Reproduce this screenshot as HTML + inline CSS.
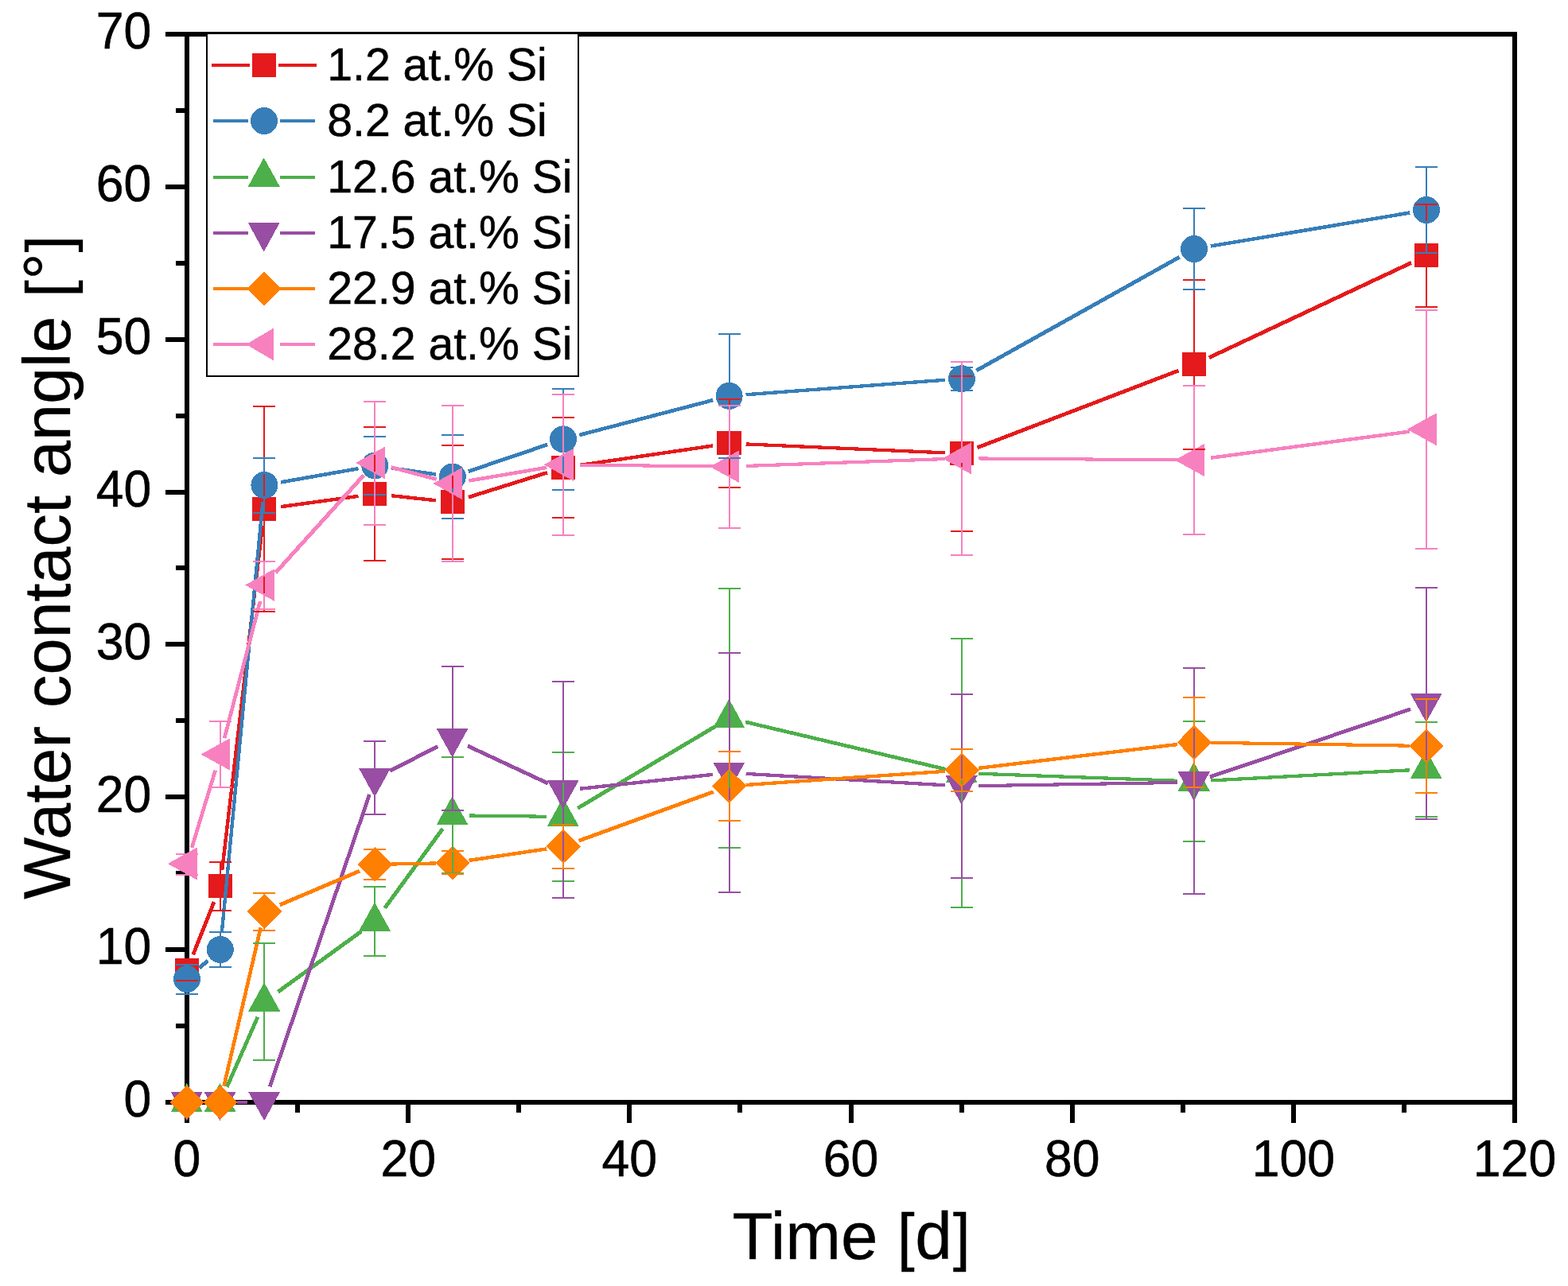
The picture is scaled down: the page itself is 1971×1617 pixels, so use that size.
<!DOCTYPE html>
<html lang="en"><head><meta charset="utf-8"><title>Water contact angle vs. time</title>
<style>html,body{margin:0;padding:0;background:#fff}body{width:1971px;height:1617px;overflow:hidden}svg{display:block}text{font-family:"Liberation Sans",Arial,Helvetica,sans-serif;fill:#000}</style>
</head><body>
<svg width="1971" height="1617" viewBox="0 0 1971 1617">
<rect width="1971" height="1617" fill="#fff"/>
<g id="axes" stroke="#000" stroke-width="6" fill="none" shape-rendering="crispEdges">
<rect x="235" y="43" width="1669" height="1343"/>
<path d="M235 1386v26M374 1386v13M513 1386v26M652 1386v13M791 1386v26M930 1386v13M1070 1386v26M1209 1386v13M1348 1386v26M1487 1386v13M1626 1386v26M1765 1386v13M1904 1386v26M235 1386h-27M235 1290h-14M235 1194h-27M235 1098h-14M235 1002h-27M235 906h-14M235 810h-27M235 714h-14M235 619h-27M235 523h-14M235 427h-27M235 331h-14M235 235h-27M235 139h-14M235 43h-27"/>
</g>
<g id="ticklabels" font-size="62.5" stroke="#000" stroke-width="0.6">
<text transform="translate(235,1479) scale(1,1.03)" text-anchor="middle">0</text>
<text transform="translate(513.17,1479) scale(1,1.03)" text-anchor="middle">20</text>
<text transform="translate(791.33,1479) scale(1,1.03)" text-anchor="middle">40</text>
<text transform="translate(1069.5,1479) scale(1,1.03)" text-anchor="middle">60</text>
<text transform="translate(1347.67,1479) scale(1,1.03)" text-anchor="middle">80</text>
<text transform="translate(1625.83,1479) scale(1,1.03)" text-anchor="middle">100</text>
<text transform="translate(1904,1479) scale(1,1.03)" text-anchor="middle">120</text>
<text transform="translate(190.3,1404.3) scale(1,1.03)" text-anchor="end">0</text>
<text transform="translate(190.3,1212.44) scale(1,1.03)" text-anchor="end">10</text>
<text transform="translate(190.3,1020.59) scale(1,1.03)" text-anchor="end">20</text>
<text transform="translate(190.3,828.73) scale(1,1.03)" text-anchor="end">30</text>
<text transform="translate(190.3,636.87) scale(1,1.03)" text-anchor="end">40</text>
<text transform="translate(190.3,445.01) scale(1,1.03)" text-anchor="end">50</text>
<text transform="translate(190.3,253.16) scale(1,1.03)" text-anchor="end">60</text>
<text transform="translate(190.3,61.3) scale(1,1.03)" text-anchor="end">70</text>
</g>
<text id="xtitle" transform="translate(1070.1,1582.7)" font-size="83.8" stroke="#000" stroke-width="0.3" text-anchor="middle">Time <tspan font-size="79" dx="0.7" dy="-0.8">[</tspan><tspan dx="0.7" dy="0.8">d</tspan><tspan font-size="79" dx="0.7" dy="-0.8">]</tspan></text>
<text id="ytitle" transform="translate(88.3,713.3) rotate(-90)" font-size="82.8" stroke="#000" stroke-width="0.3" text-anchor="middle">Water contact angle <tspan font-size="78" dx="0.7" dy="-0.8">[</tspan><tspan dx="0.7" dy="0.8">°</tspan><tspan font-size="78" dx="0.7" dy="-0.8">]</tspan></text>
<g id="legend" shape-rendering="crispEdges">
<rect x="260" y="41.5" width="467" height="431" fill="#fff" stroke="#000" stroke-width="2"/>
<g stroke="#E41A1C"><line x1="266" y1="82" x2="314" y2="82" stroke-width="4"/><line x1="350" y1="82" x2="398" y2="82" stroke-width="4"/></g>
<rect x="317" y="67" width="30" height="30" fill="#E41A1C"/>
<text transform="translate(411.2,101.2) scale(1,1.01)" font-size="57.2" stroke="#000" stroke-width="0.5">1.2 at.% Si</text>
<g stroke="#377EB8"><line x1="268" y1="152" x2="312" y2="152" stroke-width="4"/><line x1="352" y1="152" x2="396" y2="152" stroke-width="4"/></g>
<circle cx="332" cy="152" r="17" fill="#377EB8"/>
<text transform="translate(411.2,171.2) scale(1,1.01)" font-size="57.2" stroke="#000" stroke-width="0.5">8.2 at.% Si</text>
<g stroke="#4DAF4A"><line x1="268" y1="222.5" x2="312" y2="222.5" stroke-width="4"/><line x1="352" y1="222.5" x2="396" y2="222.5" stroke-width="4"/></g>
<polygon points="331.7,198.3 351.8,234.7 311.7,234.7" fill="#4DAF4A"/>
<text transform="translate(411.2,241.7) scale(1,1.01)" font-size="57.2" stroke="#000" stroke-width="0.5">12.6 at.% Si</text>
<g stroke="#984EA3"><line x1="268" y1="293" x2="312" y2="293" stroke-width="4"/><line x1="352" y1="293" x2="396" y2="293" stroke-width="4"/></g>
<polygon points="311.7,279.8 351.8,279.8 331.7,316.6" fill="#984EA3"/>
<text transform="translate(411.2,312.2) scale(1,1.01)" font-size="57.2" stroke="#000" stroke-width="0.5">17.5 at.% Si</text>
<g stroke="#FF7F00"><line x1="268" y1="363" x2="312" y2="363" stroke-width="4"/><line x1="352" y1="363" x2="396" y2="363" stroke-width="4"/></g>
<polygon points="332,341.3 353.9,363 332,384.7 310.6,363" fill="#FF7F00"/>
<text transform="translate(411.2,382.2) scale(1,1.01)" font-size="57.2" stroke="#000" stroke-width="0.5">22.9 at.% Si</text>
<g stroke="#F781BF"><line x1="268" y1="433" x2="312" y2="433" stroke-width="4"/><line x1="352" y1="433" x2="396" y2="433" stroke-width="4"/></g>
<polygon points="309.4,433 343.8,412.7 343.8,453.3" fill="#F781BF"/>
<text transform="translate(411.2,452.2) scale(1,1.01)" font-size="57.2" stroke="#000" stroke-width="0.5">28.2 at.% Si</text>
</g>
<g id="series" shape-rendering="crispEdges">
<g stroke="#E41A1C"><line x1="242.74" y1="1200.48" x2="269.06" y2="1134.02" stroke-width="4.8"/><line x1="279.24" y1="1093.64" x2="329.96" y2="660.86" stroke-width="4.42"/><line x1="353.21" y1="637.15" x2="450.49" y2="623.85" stroke-width="4.45"/><line x1="492.18" y1="623.25" x2="547.92" y2="629.25" stroke-width="4.4"/><line x1="588.84" y1="625.24" x2="687.96" y2="594.26" stroke-width="4.71"/><line x1="728.78" y1="584.96" x2="895.82" y2="560.54" stroke-width="4.47"/><line x1="937.58" y1="558.42" x2="1187.92" y2="569.38" stroke-width="4.23"/><line x1="1228.51" y1="562.79" x2="1481.39" y2="466.01" stroke-width="4.78"/><line x1="1520.01" y1="449.58" x2="1773.99" y2="330.42" stroke-width="4.85"/></g>
<rect x="219.7" y="1204.7" width="30.2" height="30.2" fill="#E41A1C"/>
<rect x="261.5" y="1099.2" width="30.2" height="30.2" fill="#E41A1C"/>
<rect x="317.1" y="624.7" width="30.2" height="30.2" fill="#E41A1C"/>
<rect x="456" y="605.7" width="30.2" height="30.2" fill="#E41A1C"/>
<rect x="553.5" y="616.2" width="30.2" height="30.2" fill="#E41A1C"/>
<rect x="692.7" y="572.7" width="30.2" height="30.2" fill="#E41A1C"/>
<rect x="901.3" y="542.2" width="30.2" height="30.2" fill="#E41A1C"/>
<rect x="1193.6" y="555" width="30.2" height="30.2" fill="#E41A1C"/>
<rect x="1485.7" y="443.2" width="30.2" height="30.2" fill="#E41A1C"/>
<rect x="1777.7" y="306.2" width="30.2" height="30.2" fill="#E41A1C"/>
<g stroke="#377EB8"><line x1="250.72" y1="1217.08" x2="261.08" y2="1207.92" stroke-width="5"/><line x1="278.79" y1="1173.09" x2="330.41" y2="630.91" stroke-width="4.37"/><line x1="353.08" y1="606.35" x2="450.62" y2="589.15" stroke-width="4.53"/><line x1="492.09" y1="588.48" x2="548.01" y2="596.52" stroke-width="4.47"/><line x1="588.69" y1="592.76" x2="688.11" y2="559.04" stroke-width="4.74"/><line x1="728.32" y1="546.99" x2="896.28" y2="503.11" stroke-width="4.65"/><line x1="937.54" y1="496.25" x2="1187.96" y2="477.75" stroke-width="4.32"/><line x1="1227.23" y1="465.96" x2="1482.67" y2="323.24" stroke-width="4.91"/><line x1="1521.71" y1="309.52" x2="1772.29" y2="267.48" stroke-width="4.51"/></g>
<circle cx="235" cy="1231" r="17" fill="#377EB8"/>
<circle cx="276.8" cy="1194" r="17" fill="#377EB8"/>
<circle cx="332.4" cy="610" r="17" fill="#377EB8"/>
<circle cx="471.3" cy="585.5" r="17" fill="#377EB8"/>
<circle cx="568.8" cy="599.5" r="17" fill="#377EB8"/>
<circle cx="708" cy="552.3" r="17" fill="#377EB8"/>
<circle cx="916.6" cy="497.8" r="17" fill="#377EB8"/>
<circle cx="1208.9" cy="476.2" r="17" fill="#377EB8"/>
<circle cx="1501" cy="313" r="17" fill="#377EB8"/>
<circle cx="1793" cy="264" r="17" fill="#377EB8"/>
<g stroke="#4DAF4A"><line x1="285.25" y1="1366.78" x2="323.95" y2="1278.72" stroke-width="4.83"/><line x1="349.4" y1="1247.17" x2="454.3" y2="1171.03" stroke-width="4.97"/><line x1="483.69" y1="1141.74" x2="556.41" y2="1042.16" stroke-width="4.97"/><line x1="589.8" y1="1025.47" x2="687" y2="1026.73" stroke-width="4.11"/><line x1="726.05" y1="1016.27" x2="898.55" y2="913.73" stroke-width="4.93"/><line x1="937.04" y1="907.82" x2="1188.46" y2="967.18" stroke-width="4.62"/><line x1="1229.89" y1="972.75" x2="1480.01" y2="981.75" stroke-width="4.21"/><line x1="1521.97" y1="981.4" x2="1772.03" y2="968.3" stroke-width="4.26"/></g>
<polygon points="234.7,1361.8 254.8,1398.2 214.7,1398.2" fill="#4DAF4A"/>
<polygon points="276.5,1361.8 296.6,1398.2 256.5,1398.2" fill="#4DAF4A"/>
<polygon points="332.1,1235.3 352.2,1271.7 312.1,1271.7" fill="#4DAF4A"/>
<polygon points="471,1134.5 491.1,1170.9 451,1170.9" fill="#4DAF4A"/>
<polygon points="568.5,1001 588.6,1037.4 548.5,1037.4" fill="#4DAF4A"/>
<polygon points="707.7,1002.8 727.8,1039.2 687.7,1039.2" fill="#4DAF4A"/>
<polygon points="916.3,878.8 936.4,915.2 896.3,915.2" fill="#4DAF4A"/>
<polygon points="1208.6,947.8 1228.7,984.2 1188.6,984.2" fill="#4DAF4A"/>
<polygon points="1500.7,958.3 1520.8,994.7 1480.7,994.7" fill="#4DAF4A"/>
<polygon points="1792.7,943 1812.8,979.4 1772.7,979.4" fill="#4DAF4A"/>
<g stroke="#984EA3"><line x1="297.8" y1="1386" x2="311.4" y2="1386" stroke-width="4"/><line x1="339.18" y1="1366.13" x2="464.52" y2="998.87" stroke-width="4.74"/><line x1="489.99" y1="969.42" x2="550.11" y2="938.58" stroke-width="4.88"/><line x1="587.83" y1="937.89" x2="688.97" y2="985.11" stroke-width="4.85"/><line x1="728.88" y1="991.77" x2="895.72" y2="973.93" stroke-width="4.39"/><line x1="937.57" y1="972.9" x2="1187.93" y2="987.3" stroke-width="4.27"/><line x1="1229.9" y1="988.15" x2="1480" y2="983.95" stroke-width="4.13"/><line x1="1520.9" y1="976.88" x2="1773.1" y2="891.72" stroke-width="4.74"/></g>
<polygon points="214.7,1372.8 254.8,1372.8 234.7,1409.2" fill="#984EA3"/>
<polygon points="256.5,1372.8 296.6,1372.8 276.5,1409.2" fill="#984EA3"/>
<polygon points="312.1,1372.8 352.2,1372.8 332.1,1409.2" fill="#984EA3"/>
<polygon points="451,965.8 491.1,965.8 471,1002.2" fill="#984EA3"/>
<polygon points="548.5,915.8 588.6,915.8 568.5,952.2" fill="#984EA3"/>
<polygon points="687.7,980.8 727.8,980.8 707.7,1017.2" fill="#984EA3"/>
<polygon points="896.3,958.5 936.4,958.5 916.3,994.9" fill="#984EA3"/>
<polygon points="1188.6,975.3 1228.7,975.3 1208.6,1011.7" fill="#984EA3"/>
<polygon points="1480.7,970.4 1520.8,970.4 1500.7,1006.8" fill="#984EA3"/>
<polygon points="1772.7,871.8 1812.8,871.8 1792.7,908.2" fill="#984EA3"/>
<g stroke="#FF7F00"><line x1="281.54" y1="1365.54" x2="327.66" y2="1166.46" stroke-width="4.61"/><line x1="351.73" y1="1137.79" x2="451.97" y2="1095.21" stroke-width="4.82"/><line x1="492.3" y1="1086.57" x2="547.8" y2="1085.43" stroke-width="4.15"/><line x1="589.57" y1="1081.91" x2="687.23" y2="1067.39" stroke-width="4.48"/><line x1="727.73" y1="1057.12" x2="896.87" y2="995.58" stroke-width="4.77"/><line x1="937.55" y1="986.97" x2="1187.95" y2="969.83" stroke-width="4.3"/><line x1="1229.75" y1="965.91" x2="1480.15" y2="935.99" stroke-width="4.42"/><line x1="1522" y1="933.82" x2="1772" y2="937.68" stroke-width="4.12"/></g>
<polygon points="235,1364.3 256.9,1386 235,1407.7 213.6,1386" fill="#FF7F00"/>
<polygon points="276.8,1364.3 298.7,1386 276.8,1407.7 255.4,1386" fill="#FF7F00"/>
<polygon points="332.4,1124.3 354.3,1146 332.4,1167.7 311,1146" fill="#FF7F00"/>
<polygon points="471.3,1065.3 493.2,1087 471.3,1108.7 449.9,1087" fill="#FF7F00"/>
<polygon points="568.8,1063.3 590.7,1085 568.8,1106.7 547.4,1085" fill="#FF7F00"/>
<polygon points="708,1042.6 729.9,1064.3 708,1086 686.6,1064.3" fill="#FF7F00"/>
<polygon points="916.6,966.7 938.5,988.4 916.6,1010.1 895.2,988.4" fill="#FF7F00"/>
<polygon points="1208.9,946.7 1230.8,968.4 1208.9,990.1 1187.5,968.4" fill="#FF7F00"/>
<polygon points="1501,911.8 1522.9,933.5 1501,955.2 1479.6,933.5" fill="#FF7F00"/>
<polygon points="1793,916.3 1814.9,938 1793,959.7 1771.6,938" fill="#FF7F00"/>
<g stroke="#F781BF"><line x1="241.11" y1="1065.91" x2="270.69" y2="968.59" stroke-width="4.7"/><line x1="282.11" y1="928.18" x2="327.09" y2="755.92" stroke-width="4.65"/><line x1="346.49" y1="720.02" x2="457.21" y2="597.58" stroke-width="5"/><line x1="491.59" y1="587.41" x2="548.51" y2="602.59" stroke-width="4.66"/><line x1="589.5" y1="604.48" x2="687.3" y2="587.82" stroke-width="4.52"/><line x1="729" y1="584.54" x2="895.6" y2="586.46" stroke-width="4.1"/><line x1="937.59" y1="585.95" x2="1187.91" y2="577.05" stroke-width="4.2"/><line x1="1229.9" y1="576.46" x2="1480" y2="578.34" stroke-width="4.08"/><line x1="1521.82" y1="575.74" x2="1772.18" y2="542.56" stroke-width="4.45"/></g>
<polygon points="210.8,1086 247.5,1065.7 247.5,1106.3" fill="#F781BF"/>
<polygon points="252.6,948.5 289.3,928.2 289.3,968.8" fill="#F781BF"/>
<polygon points="308.2,735.6 344.9,715.3 344.9,755.9" fill="#F781BF"/>
<polygon points="447.1,582 483.8,561.7 483.8,602.3" fill="#F781BF"/>
<polygon points="544.6,608 581.3,587.7 581.3,628.3" fill="#F781BF"/>
<polygon points="683.8,584.3 720.5,564 720.5,604.6" fill="#F781BF"/>
<polygon points="892.4,586.7 929.1,566.4 929.1,607" fill="#F781BF"/>
<polygon points="1184.7,576.3 1221.4,556 1221.4,596.6" fill="#F781BF"/>
<polygon points="1476.8,578.5 1513.5,558.2 1513.5,598.8" fill="#F781BF"/>
<polygon points="1768.8,539.8 1805.5,519.5 1805.5,560.1" fill="#F781BF"/>
</g>
<g id="errorbars" shape-rendering="crispEdges">
<path d="M221 1207H249M221 1233H249M235 1207V1208M235 1232V1233M262.8 1084H290.8M262.8 1145H290.8M276.8 1084V1102.5M276.8 1126.5V1145M318.4 511H346.4M318.4 769H346.4M332.4 511V628M332.4 652V769M457.3 537H485.3M457.3 705H485.3M471.3 537V609M471.3 633V705M554.8 560H582.8M554.8 703H582.8M568.8 560V619.5M568.8 643.5V703M694 525H722M694 651H722M708 525V576M708 600V651M902.6 501.6H930.6M902.6 613.1H930.6M916.6 501.6V545.5M916.6 569.5V613.1M1194.9 473H1222.9M1194.9 668H1222.9M1208.9 473V558.3M1208.9 582.3V668M1487 352H1515M1487 565H1515M1501 352V446.5M1501 470.5V565M1779 257H1807M1779 386H1807M1793 257V309.5M1793 333.5V386" stroke="#E41A1C" stroke-width="2" fill="none"/>
<path d="M221 1213H249M221 1250H249M235 1213V1217M235 1245V1250M262.8 1172H290.8M262.8 1216H290.8M276.8 1172V1180M276.8 1208V1216M318.4 576H346.4M318.4 645H346.4M332.4 576V596M332.4 624V645M457.3 549H485.3M457.3 622H485.3M471.3 549V571.5M471.3 599.5V622M554.8 547H582.8M554.8 652H582.8M568.8 547V585.5M568.8 613.5V652M694 489H722M694 616H722M708 489V538.3M708 566.3V616M902.6 420H930.6M902.6 575.7H930.6M916.6 420V483.8M916.6 511.8V575.7M1194.9 461.8H1222.9M1194.9 491H1222.9M1208.9 461.8V462.2M1208.9 490.2V491M1487 262H1515M1487 364H1515M1501 262V299M1501 327V364M1779 210H1807M1779 318H1807M1793 210V250M1793 278V318" stroke="#377EB8" stroke-width="2" fill="none"/>
<path d="M318.4 1186H346.4M318.4 1333H346.4M332.4 1186V1240M332.4 1268.5V1333M457.3 1115H485.3M457.3 1202H485.3M471.3 1115V1139.2M471.3 1167.7V1202M554.8 952.2H582.8M554.8 1097.7H582.8M568.8 952.2V1005.7M568.8 1034.2V1097.7M694 946H722M694 1108H722M708 946V1007.5M708 1036V1108M902.6 739.7H930.6M902.6 1066H930.6M916.6 739.7V883.5M916.6 912V1066M1194.9 803H1222.9M1194.9 1140.8H1222.9M1208.9 803V952.5M1208.9 981V1140.8M1487 907H1515M1487 1058H1515M1501 907V963M1501 991.5V1058M1779 907.8H1807M1779 1026.7H1807M1793 907.8V947.7M1793 976.2V1026.7" stroke="#4DAF4A" stroke-width="2" fill="none"/>
<path d="M457.3 932.2H485.3M457.3 1024H485.3M471.3 932.2V969M471.3 998V1024M554.8 838H582.8M554.8 1019H582.8M568.8 838V919M568.8 948V1019M694 857H722M694 1129H722M708 857V984M708 1013V1129M902.6 820.8H930.6M902.6 1121.8H930.6M916.6 820.8V961.7M916.6 990.7V1121.8M1194.9 873.1H1222.9M1194.9 1103.9H1222.9M1208.9 873.1V978.5M1208.9 1007.5V1103.9M1487 840H1515M1487 1124H1515M1501 840V973.6M1501 1002.6V1124M1779 739H1807M1779 1029.8H1807M1793 739V875M1793 904V1029.8" stroke="#984EA3" stroke-width="2" fill="none"/>
<path d="M318.4 1123H346.4M318.4 1170H346.4M332.4 1123V1128M332.4 1164V1170M457.3 1068H485.3M457.3 1106H485.3M471.3 1068V1069M471.3 1105V1106M554.8 1070H582.8M554.8 1099H582.8M694 1037H722M694 1092H722M708 1037V1046.3M708 1082.3V1092M902.6 945H930.6M902.6 1032H930.6M916.6 945V970.4M916.6 1006.4V1032M1194.9 942H1222.9M1194.9 994.8H1222.9M1208.9 942V950.4M1208.9 986.4V994.8M1487 877H1515M1487 989.6H1515M1501 877V915.5M1501 951.5V989.6M1779 878.8H1807M1779 997H1807M1793 878.8V920M1793 956V997" stroke="#FF7F00" stroke-width="2" fill="none"/>
<path d="M221 1073.8H249M221 1100H249M235 1073.8V1075.5M235 1096.5V1100M262.8 907H290.8M262.8 989.7H290.8M276.8 907V938M276.8 959V989.7M318.4 705.8H346.4M318.4 766H346.4M332.4 705.8V725.1M332.4 746.1V766M457.3 505H485.3M457.3 660H485.3M471.3 505V571.5M471.3 592.5V660M554.8 510H582.8M554.8 706H582.8M568.8 510V597.5M568.8 618.5V706M694 496H722M694 673H722M708 496V573.8M708 594.8V673M902.6 509.8H930.6M902.6 664.1H930.6M916.6 509.8V576.2M916.6 597.2V664.1M1194.9 455.1H1222.9M1194.9 698H1222.9M1208.9 455.1V565.8M1208.9 586.8V698M1487 485H1515M1487 672H1515M1501 485V568M1501 589V672M1779 389.6H1807M1779 689.9H1807M1793 389.6V529.3M1793 550.3V689.9" stroke="#F781BF" stroke-width="2" fill="none"/>
</g>
</svg></body></html>
